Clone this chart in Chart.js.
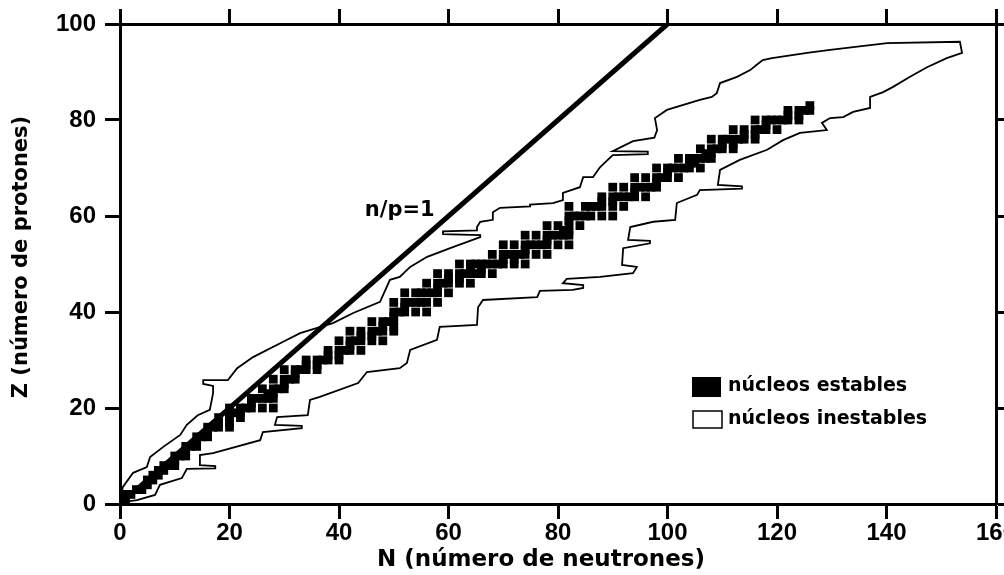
<!DOCTYPE html>
<html>
<head>
<meta charset="utf-8">
<script src="https://cdn.jsdelivr.net/npm/chart.js@4.4.1/dist/chart.umd.min.js"></script>
<style>
    html, body { margin: 0; padding: 0; background: #fff; }
    #wrap { width: 1004px; height: 575px; }
</style>
</head>
<body>
<div id="wrap"><canvas id="nuclideChart" width="1004" height="575"></canvas></div>
<script>
// stable nuclei: proton number and the neutron numbers found for it
const stableZ = [1, 2, 3, 4, 5, 6, 7, 8, 9, 10, 11, 12, 13, 14, 15, 16, 17, 18, 19, 20,
    21, 22, 23, 24, 25, 26, 27, 28, 29, 30, 31, 32, 33, 34, 35, 36, 37, 38, 39, 40, 41, 42,
    44, 45, 46, 47, 48, 49, 50, 51, 52, 53, 54, 55, 56, 57, 58, 59, 60,
    62, 63, 64, 65, 66, 67, 68, 69, 70, 71, 72, 73, 74, 75, 76, 77, 78, 79, 80, 81, 82, 83];
const stableN = [
    [0, 1], [1, 2], [3, 4], [5], [5, 6], [6, 7], [7, 8], [8, 9, 10], [10], [10, 11, 12],
    [12], [12, 13, 14], [14], [14, 15, 16], [16], [16, 17, 18, 20], [18, 20], [18, 20, 22], [20, 21, 22], [20, 22, 23, 24, 26, 28],
    [24], [24, 25, 26, 27, 28], [27, 28], [26, 28, 29, 30], [30], [28, 30, 31, 32], [32], [30, 32, 33, 34, 36], [34, 36], [34, 36, 37, 38, 40],
    [38, 40], [38, 40, 41, 42, 44], [42], [40, 42, 43, 44, 46, 48], [44, 46], [42, 44, 46, 47, 48, 50], [48, 50], [46, 48, 49, 50], [50], [50, 51, 52, 54, 56],
    [52], [50, 52, 53, 54, 55, 56, 58],
    [52, 54, 55, 56, 57, 58, 60], [58], [56, 58, 59, 60, 62, 64], [60, 62], [58, 60, 62, 63, 64, 65, 66, 68], [64, 66],
    [62, 64, 65, 66, 67, 68, 69, 70, 72, 74], [70, 72], [68, 70, 71, 72, 73, 74, 76, 78], [74], [70, 72, 74, 75, 76, 77, 78, 80, 82],
    [78], [74, 76, 78, 79, 80, 81, 82], [81, 82], [78, 80, 82, 84], [82], [82, 83, 84, 85, 86, 88, 90],
    [82, 85, 86, 87, 88, 90, 92], [88, 90], [88, 90, 91, 92, 93, 94, 96], [94], [90, 92, 94, 95, 96, 97, 98], [98],
    [94, 96, 98, 99, 100, 102], [100], [98, 100, 101, 102, 103, 104, 106], [104, 105], [102, 104, 105, 106, 107, 108],
    [107, 108], [106, 108, 109, 110, 112], [110, 112], [108, 110, 111, 112, 113, 114, 116], [114, 116],
    [112, 114, 116, 117, 118, 120], [118], [116, 118, 119, 120, 121, 122, 124], [122, 124], [122, 124, 125, 126], [126]
];

// outline of the band of known (unstable) nuclei, upper edge then back along the lower edge
const boundaryN = [0, 0.5, 2.4, 4.9, 5.5, 7.9, 11.0, 12.2, 14.2, 16.4, 17.0, 17.0, 15.2, 15.2, 19.7, 21.4, 24.3, 29.8, 32.9, 38.9,
    42.6, 47.5, 49.3, 51.1, 53.0, 56.1, 60.8, 65.8, 65.8, 59.0, 59.0, 65.2, 65.2, 65.8, 68.1, 68.1, 69.4, 74.9, 74.9, 79.1,
    80.9, 80.9, 84.0, 84.6, 86.4, 87.7, 90.0, 96.4, 96.4, 90.0, 93.7, 97.6, 98.1, 97.7, 99.9, 105.9, 108.1, 109.0, 109.6, 112.7,
    115.1, 116.3, 117.4, 119.1, 125.5, 129.7, 140.1, 153.4, 153.8,
    151.0, 147.4, 144.3, 141.2, 139.4, 137.0, 137.0, 133.9, 132.1, 129.7, 128.2, 129.1, 124.2, 121.1, 118.2, 113.2, 109.6, 109.2, 113.6, 113.6,
    105.9, 105.4, 101.7, 101.4, 97.4, 93.2, 92.8, 96.8, 96.8, 91.9, 91.7, 94.4, 93.7, 87.7, 81.6, 80.9, 84.6, 84.6, 82.7, 76.7,
    76.2, 66.3, 65.4, 65.2, 58.4, 57.9, 53.0, 52.4, 51.1, 45.1, 43.5, 36.5, 34.7, 34.3, 28.7, 28.3, 33.2, 33.2, 26.1, 25.6,
    17.0, 14.6, 14.6, 17.4, 17.4, 12.2, 11.3, 7.3, 6.4, 3.1, 0.4, 0];
const boundaryZ = [0.2, 3.5, 6.5, 7.7, 9.8, 11.9, 14.4, 16.5, 18.5, 19.6, 23.1, 24.6, 25.0, 25.8, 25.8, 28.3, 30.6, 33.8, 35.6, 37.7,
    39.8, 42.1, 46.7, 47.3, 49.4, 51.5, 53.5, 55.6, 56.0, 56.2, 56.8, 57.0, 57.7, 58.8, 59.2, 60.8, 61.7, 62.0, 62.4, 62.7,
    63.3, 64.8, 66.0, 68.1, 68.1, 70.2, 72.7, 72.9, 73.4, 73.5, 75.6, 76.3, 77.9, 80.4, 82.1, 84.2, 84.8, 85.6, 87.7, 89.0,
    90.4, 91.5, 92.5, 92.9, 94.0, 94.6, 96.0, 96.3, 94.0,
    92.9, 91.0, 89.0, 86.9, 85.8, 84.8, 82.5, 81.7, 80.6, 80.4, 79.4, 77.9, 77.3, 75.8, 73.8, 71.7, 69.6, 66.5, 66.2, 65.7,
    65.4, 64.4, 62.7, 59.2, 58.8, 57.7, 55.0, 54.8, 54.3, 53.3, 49.8, 49.4, 48.1, 47.3, 46.9, 46.0, 45.6, 45.0, 44.6, 44.4,
    43.1, 42.5, 41.0, 37.3, 36.9, 34.2, 32.1, 29.4, 28.3, 27.5, 25.2, 22.3, 21.7, 18.5, 18.1, 16.5, 16.3, 15.8, 15.0, 13.3,
    10.6, 10.2, 8.1, 7.9, 7.4, 7.3, 5.4, 4.0, 1.9, 0.8, 0.4, 0.2];

// n/p = 1 reference line
const equalLineN = [0, 100];
const equalLineZ = [0, 100];

const xTicks = [0, 20, 40, 60, 80, 100, 120, 140, 160];
const yTicks = [0, 20, 40, 60, 80, 100];

const legendLabels = ['núcleos estables', 'núcleos inestables'];
const xTitle = 'N (número de neutrones)';
const yTitle = 'Z (número de protones)';
const lineLabel = 'n/p=1';

let stablePoints = [];
stableZ.forEach(function(z, i) {
    stableN[i].forEach(function(n) {
        stablePoints.push({ x: n, y: z });
    });
});
let boundaryPoints = boundaryN.map(function(n, i) { return { x: n, y: boundaryZ[i] }; });
let equalPoints = equalLineN.map(function(n, i) { return { x: n, y: equalLineZ[i] }; });

const boldTitle = "bold 23px 'DejaVu Sans'";
const boldSmall = "bold 19px 'DejaVu Sans'";

// extra text: axis titles, line label, legend
const annotations = {
    id: 'annotations',
    afterDraw: function(chart) {
        let ctx = chart.ctx;
        let xs = chart.scales.x;
        let ys = chart.scales.y;
        ctx.save();
        ctx.fillStyle = '#000';
        ctx.textBaseline = 'middle';
        ctx.textAlign = 'center';

        ctx.font = boldTitle;
        ctx.fillText(xTitle, 541, 560);

        ctx.save();
        ctx.translate(22, 257);
        ctx.rotate(-Math.PI / 2);
        ctx.font = "bold 21px 'DejaVu Sans'";
        ctx.fillText(yTitle, 0, 0);
        ctx.restore();

        ctx.font = "bold 21px 'DejaVu Sans'";
        ctx.fillText(lineLabel, xs.getPixelForValue(51.1), ys.getPixelForValue(61.2));

        // legend
        ctx.fillRect(692, 377, 29, 20);
        ctx.fillStyle = '#fff';
        ctx.fillRect(693, 411, 29, 17);
        ctx.strokeStyle = '#000';
        ctx.lineWidth = 1.5;
        ctx.strokeRect(693, 411, 29, 17);
        ctx.fillStyle = '#000';
        ctx.textAlign = 'left';
        ctx.font = boldSmall;
        ctx.fillText(legendLabels[0], 728, 386);
        ctx.fillText(legendLabels[1], 728, 419);
        ctx.restore();
    }
};

function axisGrid() {
    return {
        drawOnChartArea: false,
        drawTicks: true,
        tickLength: 15,
        tickWidth: 3,
        tickColor: '#000'
    };
}
let axisBorder = { display: true, color: '#000', width: 3 };
let tickFont = { family: "'Liberation Sans'", weight: 'bold', size: 24 };

let ctx = document.getElementById('nuclideChart').getContext('2d');
let nuclideChart = new Chart(ctx, {
    type: 'scatter',
    data: {
        datasets: [{
            label: legendLabels[1],
            data: boundaryPoints,
            showLine: true,
            fill: false,
            borderColor: '#000',
            borderWidth: 1.8,
            pointRadius: 0,
            tension: 0,
            order: 3
        }, {
            label: legendLabels[0],
            data: stablePoints,
            pointStyle: 'rect',
            pointRadius: 6.2,
            backgroundColor: '#000',
            borderWidth: 0,
            order: 2
        }, {
            label: lineLabel,
            data: equalPoints,
            showLine: true,
            borderColor: '#000',
            borderWidth: 5,
            pointRadius: 0,
            order: 1
        }]
    },
    options: {
        responsive: false,
        animation: false,
        layout: { padding: 0 },
        plugins: {
            legend: { display: false },
            tooltip: { enabled: false }
        },
        scales: {
            x: {
                type: 'linear',
                position: 'bottom',
                min: 0,
                max: 160,
                afterBuildTicks: function(scale) { scale.ticks = xTicks.map(function(v) { return { value: v }; }); },
                ticks: { font: tickFont, color: '#000', padding: 0, maxRotation: 0, autoSkip: false },
                grid: axisGrid(),
                border: axisBorder,
                afterFit: function(scale) { scale.height = 71; scale.paddingLeft = 0; scale.paddingRight = 0; }
            },
            x2: {
                type: 'linear',
                position: 'top',
                min: 0,
                max: 160,
                afterBuildTicks: function(scale) { scale.ticks = xTicks.map(function(v) { return { value: v }; }); },
                ticks: { display: false },
                grid: axisGrid(),
                border: axisBorder,
                afterFit: function(scale) { scale.height = 24; scale.paddingLeft = 0; scale.paddingRight = 0; }
            },
            y: {
                type: 'linear',
                position: 'left',
                min: 0,
                max: 100,
                afterBuildTicks: function(scale) { scale.ticks = yTicks.map(function(v) { return { value: v }; }); },
                ticks: { font: tickFont, color: '#000', padding: 9 },
                grid: axisGrid(),
                border: axisBorder,
                afterFit: function(scale) { scale.width = 120; scale.paddingTop = 0; scale.paddingBottom = 0; }
            },
            y2: {
                type: 'linear',
                position: 'right',
                min: 0,
                max: 100,
                afterBuildTicks: function(scale) { scale.ticks = yTicks.map(function(v) { return { value: v }; }); },
                ticks: { display: false },
                grid: axisGrid(),
                border: axisBorder,
                afterFit: function(scale) { scale.width = 8; scale.paddingTop = 0; scale.paddingBottom = 0; }
            }
        }
    },
    plugins: [annotations]
});
</script>
</body>
</html>
